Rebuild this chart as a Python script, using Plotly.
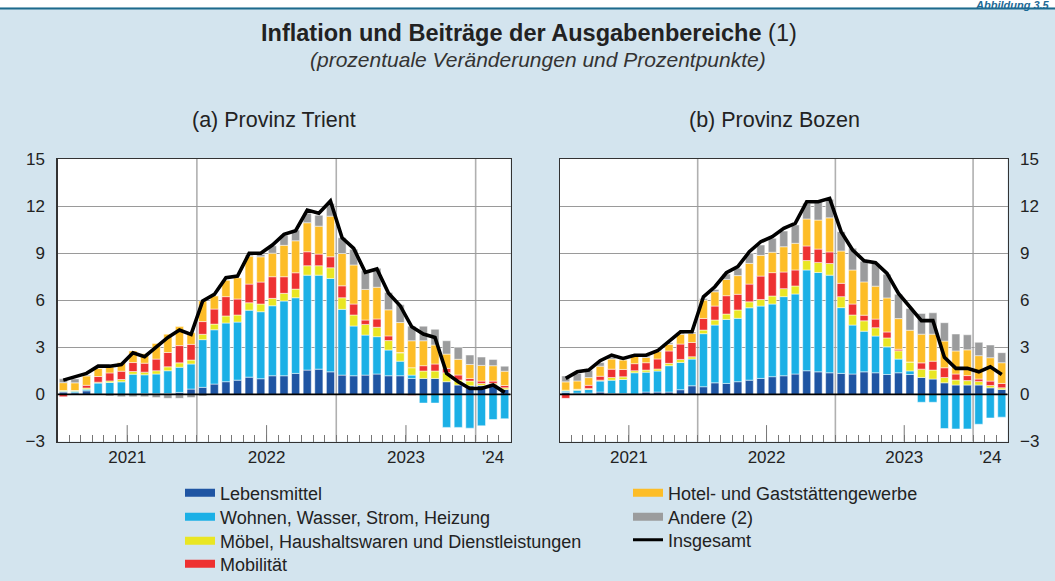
import plotly.graph_objects as go

FONT = "Liberation Sans, Arial, Helvetica, sans-serif"

# Months Jan 2021 .. Mar 2024 (39 bars)
months = list(range(39))
year_labels = ["2021", "2022", "2023", "'24"]
year_label_pos = [5.5, 17.5, 29.5, 37]

series_names = ["Lebensmittel", "Wohnen, Wasser, Strom, Heizung",
                "Möbel, Haushaltswaren und Dienstleistungen", "Mobilität",
                "Hotel- und Gaststättengewerbe", "Andere (2)"]
series_colors = ["#1f55a3", "#1bb0e6", "#e9e623", "#ee3131", "#fdbd27", "#9b9c9d"]

# (a) Provinz Trient
a_leb = [0.15, 0.10, 0.23, 0.02, 0.00, 0.00, 0.02, 0.05, 0.05, 0.06, 0.13, 0.34, 0.45, 0.66, 0.81, 0.91, 1.10, 1.00, 1.19, 1.19,
         1.34, 1.55, 1.61, 1.44, 1.23, 1.19, 1.23, 1.30, 1.19, 1.19, 1.02, 1.02, 1.02, 0.81, 0.60, 0.55, 0.57, 0.60, 0.32]
a_woh = [0.05, 0.10, 0.10, 0.70, 0.76, 0.80, 1.27, 1.20, 1.25, 1.45, 1.60, 1.60, 3.04, 3.46, 3.74, 3.70, 4.27, 4.27, 4.46, 4.76,
         4.82, 6.05, 5.99, 5.95, 4.19, 3.17, 2.55, 2.38, 1.64, 0.93, 0.21, -0.55, -0.55, -2.10, -2.10, -2.15, -2.00, -1.60, -1.55]
a_moe = [0.05, 0.05, 0.08, 0.06, 0.10, 0.15, 0.17, 0.17, 0.21, 0.25, 0.28, 0.25, 0.34, 0.36, 0.45, 0.45, 0.47, 0.49, 0.47, 0.49,
         0.55, 0.60, 0.60, 0.68, 0.74, 0.70, 0.68, 0.60, 0.60, 0.53, 0.47, 0.47, 0.47, 0.57, 0.32, 0.30, 0.13, 0.10, 0.10]
a_mob = [-0.15, 0.00, 0.17, 0.36, 0.51, 0.53, 0.57, 0.57, 0.74, 0.91, 1.10, 1.00, 0.81, 0.96, 1.23, 1.02, 1.19, 1.40, 1.38, 1.06,
         1.04, 0.89, 0.74, 0.70, 0.76, 0.70, 0.28, 0.53, 0.30, 0.02, -0.05, 0.34, 0.45, 0.28, 0.32, 0.17, 0.15, 0.15, 0.15]
a_hot = [0.50, 0.49, 0.60, 0.53, 0.38, 0.55, 0.74, 0.60, 1.00, 1.17, 1.21, 0.74, 1.32, 0.85, 1.06, 1.36, 1.78, 1.61, 1.50, 2.00,
         2.04, 1.85, 1.78, 2.59, 2.06, 2.49, 1.95, 2.02, 1.66, 1.91, 1.72, 1.59, 1.21, 0.91, 1.00, 0.89, 1.00, 0.98, 0.91]
a_and = [0.25, 0.25, 0.05, 0.00, -0.10, -0.15, -0.15, -0.15, -0.20, -0.25, -0.25, -0.20, -0.10, 0.00, 0.00, 0.00, 0.08, 0.15, 0.47, 0.64,
         0.68, 0.60, 0.70, 0.81, 1.00, 1.00, 1.19, 1.21, 1.10, 1.13, 0.93, 0.93, 1.00, 0.85, 0.76, 0.60, 0.53, 0.40, 0.32]
a_tot = [0.91, 1.13, 1.34, 1.80, 1.80, 1.90, 2.65, 2.40, 3.00, 3.63, 4.10, 3.82, 5.95, 6.37, 7.44, 7.54, 8.99, 8.99, 9.52, 10.20,
         10.43, 11.75, 11.54, 12.32, 9.98, 9.30, 7.78, 7.99, 6.44, 5.65, 4.31, 3.85, 3.63, 1.34, 0.81, 0.38, 0.38, 0.60, 0.13]

# (b) Provinz Bozen
b_leb = [0.13, 0.08, 0.08, 0.15, 0.06, 0.06, 0.02, 0.15, 0.15, 0.15, 0.30, 0.55, 0.49, 0.74, 0.70, 0.81, 0.91, 1.02, 1.13, 1.19,
         1.30, 1.51, 1.44, 1.38, 1.34, 1.30, 1.44, 1.38, 1.27, 1.38, 1.27, 1.08, 0.98, 0.74, 0.60, 0.60, 0.60, 0.42, 0.32]
b_woh = [0.08, 0.19, 0.23, 0.70, 0.85, 0.89, 1.36, 1.27, 1.34, 1.68, 1.74, 1.70, 3.38, 3.68, 4.08, 4.04, 4.61, 4.61, 4.63, 5.04,
         5.10, 6.42, 6.33, 6.22, 4.19, 3.12, 2.59, 2.34, 1.76, 0.87, 0.23, -0.50, -0.50, -2.17, -2.20, -2.20, -1.90, -1.50, -1.45]
b_moe = [0.06, 0.06, 0.06, 0.06, 0.17, 0.17, 0.13, 0.13, 0.13, 0.15, 0.19, 0.15, 0.23, 0.32, 0.34, 0.53, 0.38, 0.42, 0.51, 0.51,
         0.51, 0.60, 0.64, 0.74, 0.70, 0.64, 0.66, 0.53, 0.57, 0.53, 0.57, 0.53, 0.57, 0.34, 0.32, 0.28, 0.23, 0.15, 0.10]
b_mob = [-0.25, 0.00, 0.21, 0.25, 0.53, 0.47, 0.45, 0.47, 0.64, 0.79, 0.98, 0.91, 0.74, 0.89, 1.17, 1.00, 1.13, 1.49, 1.49, 1.06,
         1.02, 0.93, 0.85, 0.74, 0.85, 0.70, 0.36, 0.55, 0.38, 0.10, 0.00, 0.40, 0.57, 0.62, 0.38, 0.32, 0.15, 0.28, 0.28]
b_hot = [0.53, 0.53, 0.49, 0.64, 0.64, 0.60, 0.51, 0.34, 0.47, 0.42, 0.62, 0.57, 1.17, 0.91, 1.04, 1.19, 1.32, 1.32, 1.30, 1.61,
         1.70, 1.72, 1.85, 2.17, 2.06, 2.17, 2.12, 2.10, 2.17, 1.95, 2.02, 1.83, 1.72, 1.70, 1.47, 1.64, 1.49, 1.49, 1.32]
b_and = [0.38, 0.47, 0.47, 0.23, 0.10, 0.05, 0.05, 0.08, 0.08, 0.10, 0.10, 0.10, 0.10, 0.15, 0.34, 0.47, 0.64, 0.66, 0.89, 1.00,
         1.17, 1.00, 1.17, 1.19, 1.23, 1.38, 1.32, 1.44, 1.51, 1.55, 1.38, 1.32, 1.36, 1.17, 1.08, 0.96, 0.85, 0.81, 0.64]
b_tot = [1.02, 1.44, 1.55, 2.15, 2.50, 2.29, 2.50, 2.50, 2.78, 3.36, 3.99, 3.99, 6.22, 6.86, 7.75, 8.14, 9.09, 9.73, 10.05, 10.58,
         10.90, 12.28, 12.28, 12.49, 10.37, 9.20, 8.52, 8.39, 7.71, 6.44, 5.59, 4.70, 4.70, 2.36, 1.66, 1.66, 1.44, 1.76, 1.27]

panels = [
    ("x", "y", [a_leb, a_woh, a_moe, a_mob, a_hot, a_and], a_tot),
    ("x2", "y2", [b_leb, b_woh, b_moe, b_mob, b_hot, b_and], b_tot),
]

fig = go.Figure()
for xa, ya, comps, tot in panels:
    for name, color, vals in zip(series_names, series_colors, comps):
        fig.add_trace(go.Bar(x=months, y=vals, name=name, xaxis=xa, yaxis=ya,
                             marker=dict(color=color, line=dict(color="white", width=0.5)),
                             showlegend=False, hoverinfo="skip"))
    fig.add_trace(go.Scatter(x=months, y=tot, name="Insgesamt", xaxis=xa, yaxis=ya,
                             mode="lines", line=dict(color="black", width=3.6),
                             showlegend=False, hoverinfo="skip"))

W, H = 1055, 581
def px(v):
    return v / W
def py(v):
    return 1 - v / H

# legend-only entries, one small legend per entry (two columns)
legend_names = series_names + ["Insgesamt"]
legend_colors = series_colors + ["black"]
legend_widths = [8, 8, 8, 8, 8, 8, 3]
legend_pos = [(180, 493), (180, 517), (180, 541), (180, 564),
              (628, 493), (628, 517), (628, 540)]
legend_layout = {}
for i, (name, color, lw, (lx, ly)) in enumerate(zip(legend_names, legend_colors, legend_widths, legend_pos)):
    key = "legend" if i == 0 else f"legend{i + 1}"
    fig.add_trace(go.Scatter(x=[None], y=[None], name=name, mode="lines",
                             line=dict(color=color, width=lw), legend=key, showlegend=True))
    legend_layout[key] = dict(x=px(lx), y=py(ly), xanchor="left", yanchor="middle",
                              bgcolor="rgba(0,0,0,0)", borderwidth=0,
                              font=dict(size=18, color="#222", family=FONT), itemwidth=30)

ydom = [py(441.5), py(159)]
month_bounds = [i + 0.5 for i in range(38)]

xcommon = dict(range=[-0.5, 38.5], showgrid=False, zeroline=False,
               tickmode="array", tickvals=year_label_pos, ticktext=year_labels, ticks="",
               tickfont=dict(size=17, color="#222"),
               showline=True, mirror=True, linecolor="#333", linewidth=1.2,
               minor=dict(tickmode="array", tickvals=month_bounds, ticks="inside",
                          ticklen=7, tickwidth=1, tickcolor="#777"))
ycommon = dict(range=[-3, 15], tickmode="array", tickvals=[-3, 0, 3, 6, 9, 12, 15],
               ticks="", showgrid=True, gridcolor="#9a9a9a", gridwidth=1,
               zeroline=False,
               showline=True, mirror=True, linecolor="#333", linewidth=1.2,
               tickfont=dict(size=17, color="#222"), ticklabelstandoff=8)

fig.update_layout(
    width=W, height=H,
    margin=dict(l=0, r=0, t=0, b=0, autoexpand=False),
    paper_bgcolor="#d3e4ee", plot_bgcolor="white",
    font=dict(family=FONT, color="#222"),
    barmode="relative", bargap=0.3,
    xaxis=dict(xcommon, domain=[px(57.5), px(510.5)], anchor="y"),
    yaxis=dict(ycommon, domain=ydom, anchor="x", side="left"),
    xaxis2=dict(xcommon, domain=[px(560), px(1007.5)], anchor="y2"),
    yaxis2=dict(ycommon, domain=ydom, anchor="x2", side="right"),
    showlegend=True,
    **legend_layout,
)

shapes = []
# top white strip and rule
shapes.append(dict(type="rect", xref="paper", yref="paper", x0=0, x1=1, y0=py(7.5), y1=1,
                   fillcolor="white", line=dict(width=0), layer="below"))
shapes.append(dict(type="line", xref="paper", yref="paper", x0=0, x1=1, y0=py(8.5), y1=py(8.5),
                   line=dict(color="#1d6a8c", width=2.2), layer="below"))
for xa, ya in [("x", "y"), ("x2", "y2")]:
    for xv in [11.5, 23.5, 35.5]:
        shapes.append(dict(type="line", xref=xa, yref=f"{ya} domain", x0=xv, x1=xv, y0=0, y1=1,
                           line=dict(color="#b0b0b0", width=1.6), layer="below"))
    for xv in [5.5, 17.5, 29.5]:
        shapes.append(dict(type="line", xref=xa, yref=f"{ya} domain", x0=xv, x1=xv, y0=0, y1=0.058,
                           line=dict(color="#777", width=1)))
    # zero line drawn above the bars, as in the reference
    shapes.append(dict(type="line", xref=f"{xa} domain", yref=ya, x0=0, x1=1, y0=0, y1=0,
                       line=dict(color="black", width=1.6), layer="above"))
fig.update_layout(shapes=shapes)

ann = []
ann.append(dict(text="<b>Inflation und Beiträge der Ausgabenbereiche</b> (1)", x=px(529), y=py(33),
                xref="paper", yref="paper", showarrow=False, xanchor="center", yanchor="middle",
                font=dict(size=23.5, color="#222", family=FONT)))
ann.append(dict(text="<i>(prozentuale Veränderungen und Prozentpunkte)</i>", x=px(538), y=py(59),
                xref="paper", yref="paper", showarrow=False, xanchor="center", yanchor="middle",
                font=dict(size=21, color="#333", family=FONT)))
ann.append(dict(text="(a) Provinz Trient", x=px(274), y=py(120), xref="paper", yref="paper",
                showarrow=False, xanchor="center", yanchor="middle",
                font=dict(size=21.5, color="#222", family=FONT)))
ann.append(dict(text="(b) Provinz Bozen", x=px(774), y=py(120), xref="paper", yref="paper",
                showarrow=False, xanchor="center", yanchor="middle",
                font=dict(size=21.5, color="#222", family=FONT)))
ann.append(dict(text="<b><i>Abbildung 3.5</i></b>", x=px(1052), y=py(4.5), xref="paper", yref="paper",
                showarrow=False, xanchor="right", yanchor="middle",
                font=dict(size=11, color="#1d6a96", family=FONT)))
fig.update_layout(annotations=ann)

fig.write_html("out.html", config={"displayModeBar": False, "staticPlot": True},
               post_script="document.body.style.margin='0px';document.body.style.overflow='hidden';")
